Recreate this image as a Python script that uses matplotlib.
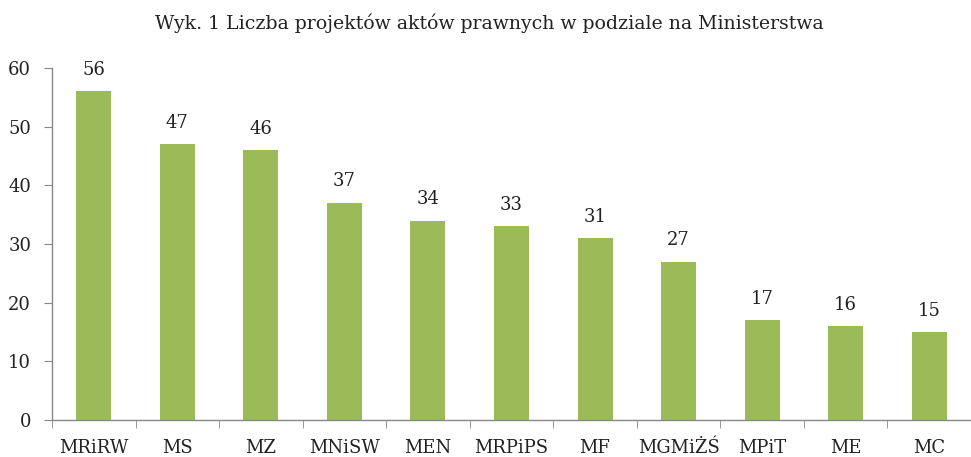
import matplotlib
matplotlib.use("Agg")
import matplotlib.pyplot as plt
import numpy as np

categories = ["MRiRW", "MS", "MZ", "MNiSW", "MEN", "MRPiPS", "MF", "MGMiŻŚ", "MPiT", "ME", "MC"]
values = [56, 47, 46, 37, 34, 33, 31, 27, 17, 16, 15]
yticks = [0, 10, 20, 30, 40, 50, 60]
title = "Wyk. 1 Liczba projektów aktów prawnych w podziale na Ministerstwa"

plt.rcParams['font.family'] = ['DejaVu Serif']

W, H = 971, 457
fig = plt.figure(figsize=(W/100, H/100), dpi=100)
left, right, top, bottom = 52, 971, 68, 420
ax = fig.add_axes([left/W, 1 - bottom/H, (right-left)/W, (bottom-top)/H])

x = np.arange(len(categories))
color = "#9BBB59"
ax.bar(x, values, width=0.42, color=color)
for xi, v in zip(x, values):
    ax.annotate(str(v), (xi, v), xytext=(0, 9), textcoords="offset points",
                ha="center", va="bottom", fontsize=13, color="#222222")

unit = 84.4
ax.set_xlim(-0.5, -0.5 + (right-left)/unit)
ax.set_ylim(0, 60)
ax.set_yticks(yticks)
ax.set_yticklabels([str(t) for t in yticks], fontsize=13, color="#222222")
ax.set_xticks(x)
ax.set_xticklabels(categories, fontsize=13, color="#222222")
ax.tick_params(axis='x', length=0, pad=14)
ax.set_xticks(np.arange(len(categories)+1) - 0.5, minor=True)
ax.tick_params(axis='x', which='minor', length=6, color="#888888", direction='out')
ax.tick_params(axis='y', length=6, color="#888888", direction='out', pad=9)

for s in ["top", "right"]:
    ax.spines[s].set_visible(False)
for s in ["left", "bottom"]:
    ax.spines[s].set_color("#888888")
    ax.spines[s].set_linewidth(1)

fig.text(489/W, 1 - 23/H, title, ha="center", va="center", fontsize=13.6, color="#222222")

fig.savefig("out.png", dpi=100)
